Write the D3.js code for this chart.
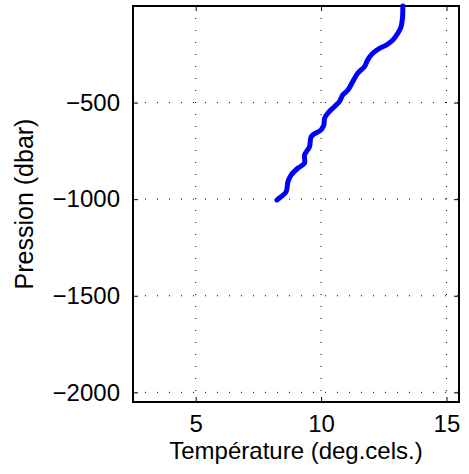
<!DOCTYPE html>
<html>
<head>
<meta charset="utf-8">
<script src="https://cdn.jsdelivr.net/npm/d3@7"></script>
<style>
  body { margin: 0; background: #fff; }
  text { font-family: "Liberation Sans", Arial, sans-serif; }
</style>
</head>
<body>
<div id="chart"></div>
<script>
// Profile values
const temperature = [13.26, 13.25, 13.19, 13.06, 12.86, 12.6, 12.33, 12.06, 11.86, 11.73, 11.46,
  11.26, 11.07, 10.87, 10.73, 10.53, 10.27, 10.14, 10.11, 10.0, 9.61, 9.54, 9.34, 9.34, 9.07,
  8.81, 8.68, 8.61, 8.41, 8.24];
const pressure = [0, -55, -107, -141, -176, -202, -219, -245, -279, -314, -348,
  -392, -435, -460, -495, -521, -555, -581, -616, -641, -676, -728, -771, -814, -840,
  -874, -909, -961, -987, -1004];
const xTicks = [5, 10, 15];
const yTicks = [-500, -1000, -1500, -2000];

const W = 469, H = 474;
const margin = { top: 6, right: 10, bottom: 72, left: 133 };
const width  = W - margin.left - margin.right;
const height = H - margin.top - margin.bottom;

const svg = d3.select("#chart").append("svg")
    .attr("width", W)
    .attr("height", H)
  .append("g")
    .attr("transform", `translate(${margin.left},${margin.top})`);

const x = d3.scaleLinear().domain([2.5, 15.5]).range([0, width]);
const y = d3.scaleLinear().domain([-2050, 0]).range([height, 0]);

// dotted grid
svg.append("g").selectAll("line")
  .data(xTicks)
  .join("line")
    .attr("x1", d => x(d)).attr("x2", d => x(d))
    .attr("y1", 0).attr("y2", height)
    .attr("stroke", "#000")
    .attr("stroke-width", 1)
    .attr("stroke-dasharray", "1,11");

svg.append("g").selectAll("line")
  .data(yTicks)
  .join("line")
    .attr("x1", 0).attr("x2", width)
    .attr("y1", d => y(d)).attr("y2", d => y(d))
    .attr("stroke", "#000")
    .attr("stroke-width", 1)
    .attr("stroke-dasharray", "1,11");

// axes with inward ticks
const fmt = d3.format("d");
svg.append("g")
    .attr("transform", `translate(0,${height})`)
    .call(d3.axisBottom(x).tickValues(xTicks).tickFormat(fmt).tickSizeInner(-5).tickSizeOuter(0).tickPadding(13));
svg.append("g")
    .call(d3.axisLeft(y).tickValues(yTicks).tickFormat(fmt).tickSizeInner(-5).tickSizeOuter(0).tickPadding(13));
svg.append("g")
    .call(d3.axisTop(x).tickValues(xTicks).tickFormat("").tickSizeInner(-5).tickSizeOuter(0));
svg.append("g")
    .attr("transform", `translate(${width},0)`)
    .call(d3.axisRight(y).tickValues(yTicks).tickFormat("").tickSizeInner(-5).tickSizeOuter(0));

svg.selectAll(".domain").remove();
svg.selectAll(".tick line").attr("stroke", "#000").attr("stroke-width", 1);
svg.selectAll(".tick text")
    .attr("fill", "#000")
    .style("font-size", "24px")
    .style("font-family", "'Liberation Sans', Arial, sans-serif");

// box
svg.append("rect")
    .attr("width", width)
    .attr("height", height)
    .attr("fill", "none")
    .attr("stroke", "#000")
    .attr("stroke-width", 2);

// profile line
const line = d3.line()
    .x((d, i) => x(temperature[i]))
    .y(d => y(d))
    .curve(d3.curveCatmullRom);

svg.append("path")
    .datum(pressure)
    .attr("fill", "none")
    .attr("stroke", "#0000ff")
    .attr("stroke-width", 5)
    .attr("stroke-linecap", "round")
    .attr("stroke-linejoin", "round")
    .attr("d", line);

// labels
svg.append("text")
    .attr("x", width / 2)
    .attr("y", height + 57)
    .attr("text-anchor", "middle")
    .style("font-size", "24px")
    .text("Température (deg.cels.)");

svg.append("text")
    .attr("transform", "rotate(-90)")
    .attr("x", -height / 2)
    .attr("y", -100)
    .attr("text-anchor", "middle")
    .style("font-size", "25px")
    .text("Pression (dbar)");
</script>
</body>
</html>
